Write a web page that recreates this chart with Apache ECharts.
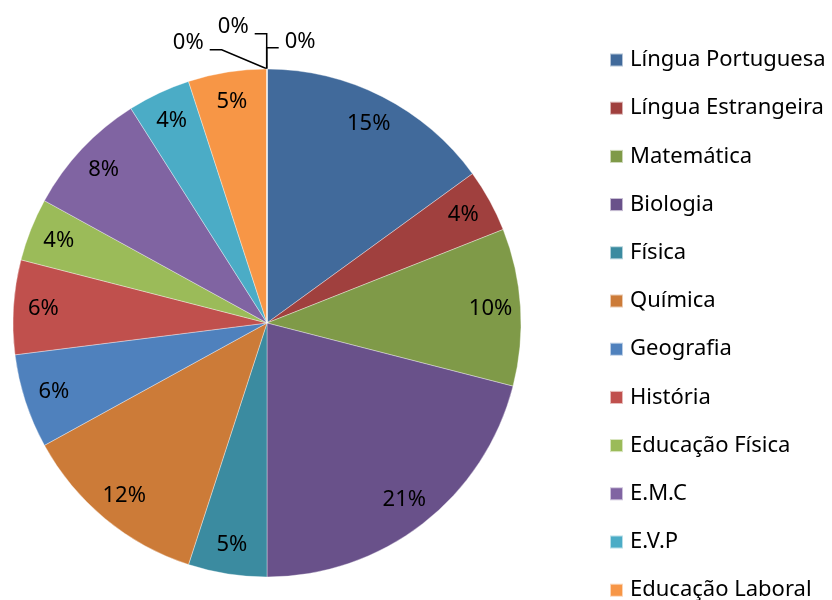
<!DOCTYPE html>
<html>
<head>
<meta charset="utf-8">
<script src="https://cdn.jsdelivr.net/npm/echarts@6/dist/echarts.min.js"></script>
<style>
  html, body { margin: 0; padding: 0; background: #fff; }
  #chart { width: 832px; height: 600px; }
</style>
</head>
<body>
<div id="chart"></div>
<script>
// disciplinas (as 3 últimas não aparecem na legenda)
var subjects = [
  'Língua Portuguesa', 'Língua Estrangeira', 'Matemática', 'Biologia', 'Física',
  'Química', 'Geografia', 'História', 'Educação Física', 'E.M.C', 'E.V.P',
  'Educação Laboral', 'Outra 1', 'Outra 2', 'Outra 3'
]
// percentagem da carga horária
var shares = [15, 4, 10, 21, 5, 12, 6, 6, 4, 8, 4, 5, 0, 0, 0]
var sliceColors = [
  '#416a9b', '#a0403e', '#7f9a48', '#69518a', '#3b8ba0', '#cc7b38',
  '#4f81bd', '#c0504d', '#9bbb59', '#8064a2', '#4bacc6', '#f79646',
  '#7f9ac8', '#cf8280', '#b4cc86'
]
var legendNames = subjects.slice(0, 12)

var FONT = 'Noto Sans'

// posição dos rótulos de 0% (relativa ao topo da tarte)
var zeroLabels = {
  12: { dx: 18, dy: -27, align: 'left', line: [[0, -21], [12, -21]] },
  13: { dx: -18, dy: -42, align: 'right', line: [[0, -35], [-12, -35]] },
  14: { dx: -63, dy: -26, align: 'right', line: [[-45, -19], [-57, -19]] }
}

var pieData = subjects.map(function (name, i) {
  var item = { name: name, value: shares[i], itemStyle: { color: sliceColors[i] } }
  if (shares[i] === 0) {
    item.label = { show: true }
    item.labelLine = { show: true }
  }
  return item
})

var labelData = subjects.map(function (name, i) {
  return { name: name, value: shares[i] }
})

var chart = echarts.init(document.getElementById('chart'))
chart.setOption({
  animation: false,
  color: sliceColors,
  legend: {
    orient: 'vertical',
    left: 609,
    top: 49,
    height: 560,
    padding: 0,
    data: legendNames,
    icon: 'rect',
    itemWidth: 13,
    itemHeight: 13,
    itemGap: 26.2,
    selectedMode: false,
    textStyle: { fontFamily: FONT, fontSize: 22, color: '#000', lineHeight: 22, padding: [0, 0, 0, 2] }
  },
  series: [
    {
      type: 'pie',
      center: [267, 323],
      radius: [0, 254],
      startAngle: 90,
      clockwise: true,
      avoidLabelOverlap: false,
      silent: true,
      itemStyle: { borderColor: 'rgba(255,255,255,0.6)', borderWidth: 0.6 },
      label: {
        show: false,
        position: 'outside',
        fontFamily: FONT,
        fontSize: 22,
        color: '#000',
        formatter: function (p) { return Math.round(p.percent) + '%' }
      },
      labelLine: { show: false, lineStyle: { color: '#000', width: 1.5 } },
      labelLayout: function (p) {
        var z = zeroLabels[p.dataIndex]
        if (!z) return {}
        var x0 = p.rect.x, y0 = p.rect.y
        var pts = [[x0, y0]].concat(z.line.map(function (d) { return [x0 + d[0], y0 + d[1]] }))
        return {
          x: x0 + z.dx,
          y: y0 + z.dy,
          align: z.align,
          verticalAlign: 'middle',
          labelLinePoints: pts
        }
      },
      data: pieData
    },
    {
      // só para os rótulos internos, perto da borda
      type: 'pie',
      center: [267, 323],
      radius: [188, 254],
      startAngle: 90,
      silent: true,
      avoidLabelOverlap: false,
      itemStyle: { color: 'transparent' },
      label: {
        show: true,
        position: 'inside',
        fontFamily: FONT,
        fontSize: 22,
        color: '#000',
        formatter: function (p) { return p.value ? Math.round(p.percent) + '%' : '' }
      },
      labelLine: { show: false },
      data: labelData
    }
  ]
})
</script>
</body>
</html>
